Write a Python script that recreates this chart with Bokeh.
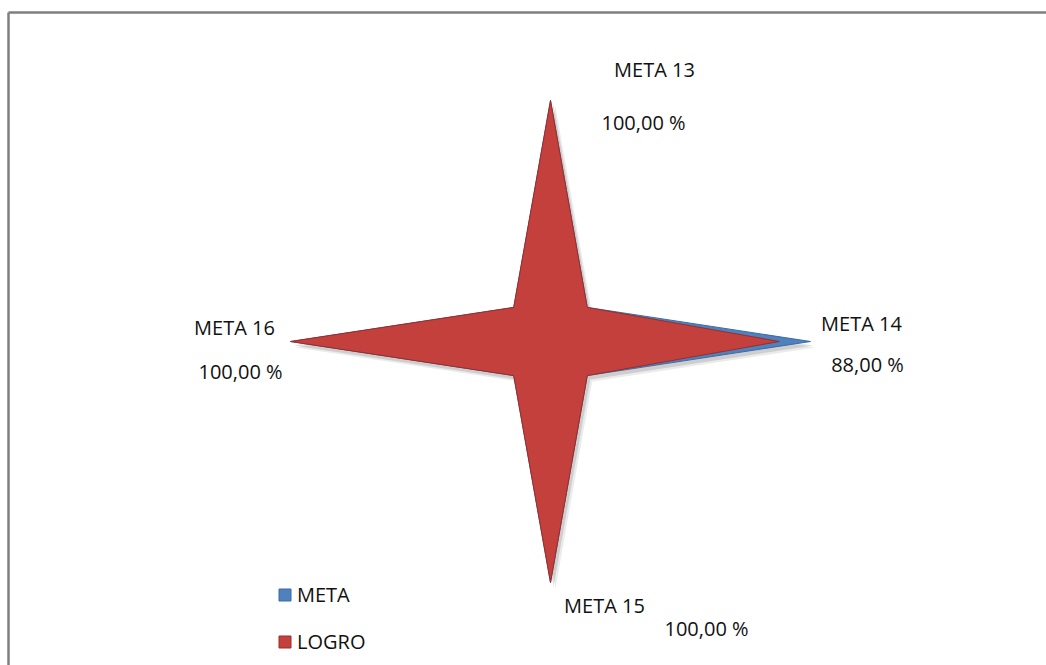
import numpy as np
from bokeh.plotting import figure
from bokeh.models import Range1d, Legend, LegendItem
from bokeh.core.properties import value
from bokeh.embed import file_html
from bokeh.resources import INLINE

# ---- data ----
categories = ["META 13", "META 14", "META 15", "META 16"]
meta = [1.00, 1.00, 1.00, 1.00]
logro = [1.00, 0.88, 1.00, 1.00]
logro_labels = ["100,00 %", "88,00 %", "100,00 %", "100,00 %"]

# ---- layout / style ----
W, H = 1046, 665
CX, CY = 550, 341          # centre of the radar in pixels
SX, SY = 260, 241          # pixels per unit radius (x / y)
WAIST = 0.20               # inner vertices of the star
FONT = "Open Sans"
FS = "20px"
TXT = "#111111"

# label offsets (pixels from the category's full-scale tip): (name dx, dy, value dx, dy)
label_off = [(104, -31, 93, 22), (51, -18, 57, 23), (54, 23, 156, 46), (-56, -14, -50, 30)]


def angle(i):
    return np.pi / 2 - i * np.pi / 2


def star(vals):
    xs, ys = [], []
    for i, v in enumerate(vals):
        a = angle(i)
        xs.append(v * np.cos(a))
        ys.append(v * np.sin(a))
        b = a - np.pi / 4
        xs.append(WAIST * np.cos(b))
        ys.append(WAIST * np.sin(b))
    return xs, ys


p = figure(width=W, height=H, output_backend="svg", toolbar_location=None,
           x_range=Range1d(-CX / SX, (W - CX) / SX),
           y_range=Range1d(-(H - CY) / SY, CY / SY),
           min_border=0, outline_line_color=None)
p.axis.visible = False
p.grid.visible = False
p.background_fill_color = "white"
p.border_fill_color = "white"

# chart border (top and left only are visible)
bx = (8 - CX) / SX
by = (CY - 12) / SY
p.segment(x0=[bx, bx], y0=[by, by], x1=[(W - CX) / SX + 0.1, bx], y1=[by, -(H - CY) / SY - 0.1],
          line_color="#7f7f7f", line_width=2.5)

mx, my = star(meta)
lx, ly = star(logro)

# soft shadow
for k, al in ((5, 0.08), (3, 0.12)):
    dx, dy = k / SX, -(k + 1) / SY
    p.patch([x + dx for x in mx], [y + dy for y in my], fill_color="#000000", fill_alpha=al, line_color=None)

r_meta = p.patch(mx, my, fill_color="#4F81BD", line_color="#3A6BA8", line_width=1)
r_logro = p.patch(lx, ly, fill_color="#C4403D", line_color="#9B2D2A", line_width=1)

# labels
nx, ny, vx, vy = [], [], [], []
for i, c in enumerate(categories):
    a = angle(i)
    tx, ty = meta[i] * np.cos(a), meta[i] * np.sin(a)
    o = label_off[i]
    nx.append(tx + o[0] / SX)
    ny.append(ty - o[1] / SY)
    vx.append(tx + o[2] / SX)
    vy.append(ty - o[3] / SY)

p.text(x=nx, y=ny, text=categories, text_font=value(FONT), text_font_size=FS,
       text_color=TXT, text_align="center", text_baseline="middle")
p.text(x=vx, y=vy, text=logro_labels, text_font=value(FONT), text_font_size=FS,
       text_color=TXT, text_align="center", text_baseline="middle")

legend = Legend(items=[LegendItem(label="META", renderers=[r_meta]),
                       LegendItem(label="LOGRO", renderers=[r_logro])],
                location=(277, 10), orientation="vertical",
                glyph_width=15, glyph_height=15, label_height=20, spacing=20,
                label_standoff=5, padding=0, margin=0,
                border_line_color=None, background_fill_alpha=0,
                label_text_font=FONT, label_text_font_size=FS, label_text_color=TXT)
p.add_layout(legend)

open("out.html", "w").write(file_html(p, INLINE))
